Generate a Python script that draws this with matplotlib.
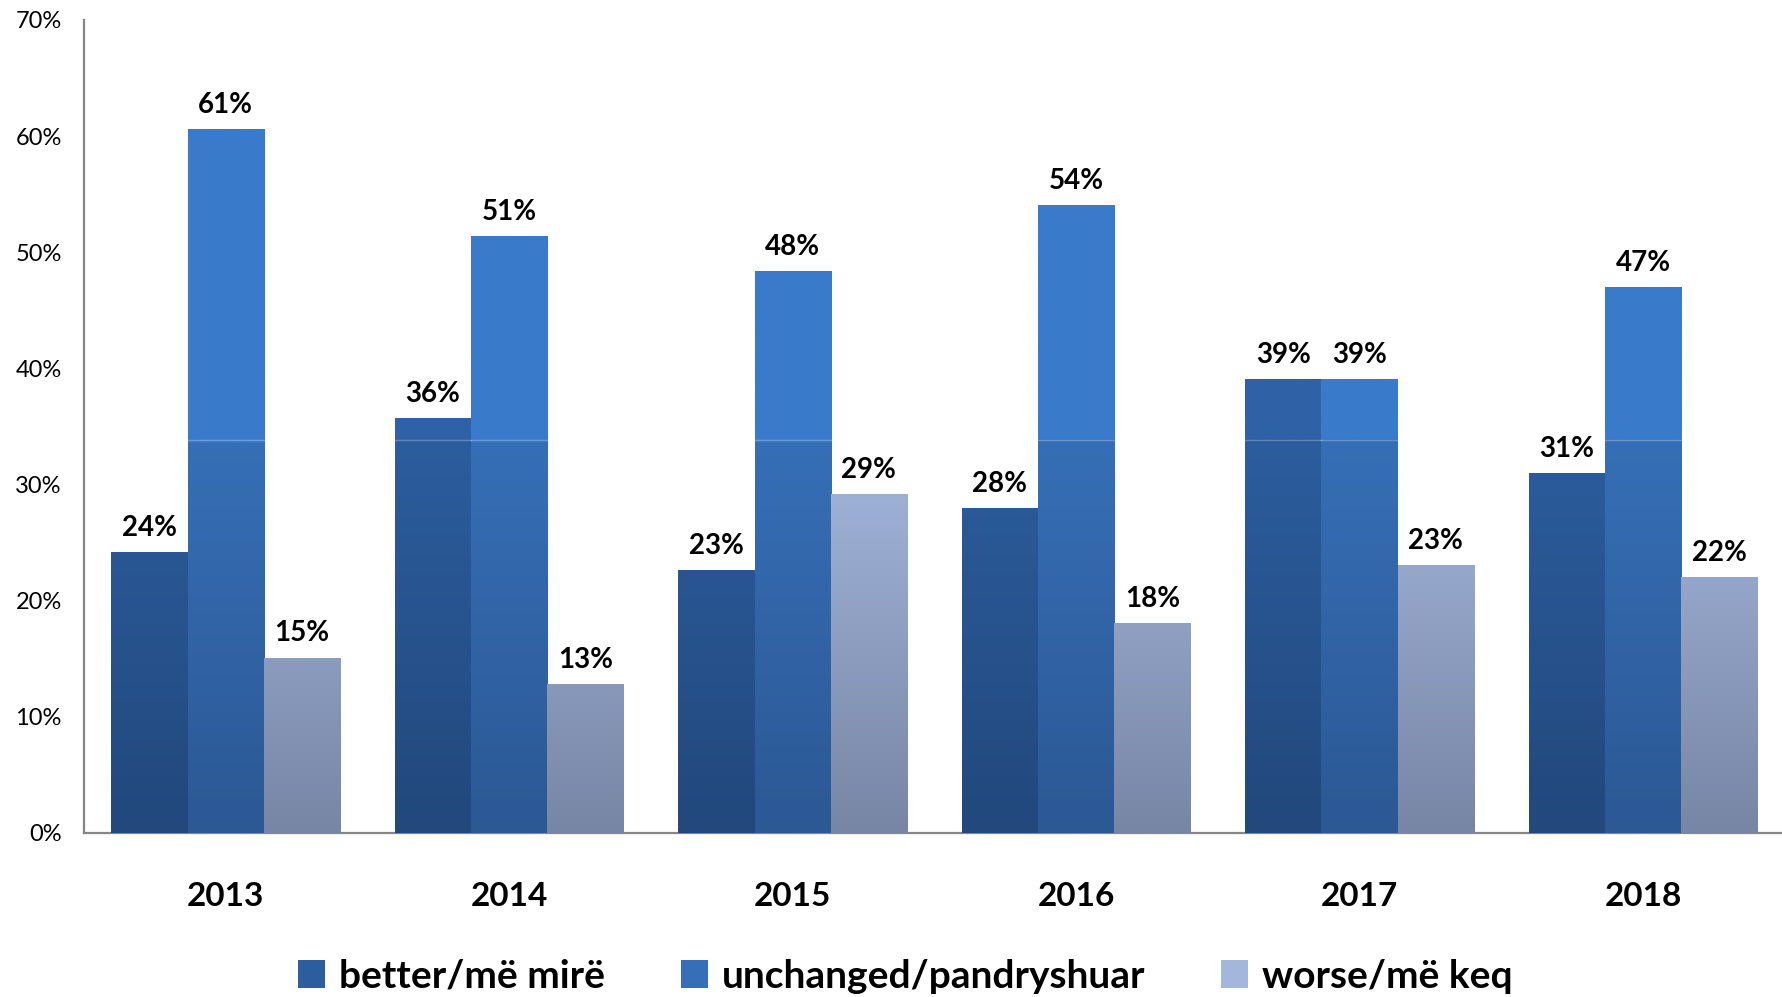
import numpy as np
import matplotlib
matplotlib.use("Agg")
import matplotlib.pyplot as plt
from matplotlib.patches import Patch
from matplotlib.colors import to_rgb

# data (percent)
years = ["2013", "2014", "2015", "2016", "2017", "2018"]
better = [24.2, 35.7, 22.6, 28.0, 39.1, 31.0]
unchanged = [60.6, 51.4, 48.4, 54.1, 39.1, 47.0]
worse = [15.1, 12.8, 29.2, 18.1, 23.1, 22.0]
labels = ["better/më mirë", "unchanged/pandryshuar", "worse/më keq"]

# (top, just-below-seam, bottom) colours per series
shades = [
    ("#2e62a6", "#2c5d9e", "#22487c"),
    ("#3a7acb", "#366fb7", "#2c5894"),
    ("#a3b7dd", "#a3b7dd", "#7886a5"),
]
seam = 33.8  # gradient stops here, solid colour above

plt.rcParams['font.family'] = ['Lato', 'DejaVu Sans']

fig = plt.figure(figsize=(17.82, 9.97), dpi=100)
ax = fig.add_axes([0.0471, 0.1645, 0.9529, 0.8155])

x = np.arange(len(years))
w = 0.269
series = [better, unchanged, worse]


def gradient(h, cols, n=200):
    top, mid, bot = [np.array(to_rgb(c)) for c in cols]
    ys = np.linspace(0, h, n)
    out = np.zeros((n, 1, 3))
    for k, y in enumerate(ys):
        if y >= seam:
            out[k, 0] = top
        else:
            t = y / seam
            out[k, 0] = bot + (mid - bot) * t
    return out


for i, vals in enumerate(series):
    bars = ax.bar(x + (i - 1) * w, vals, w, color=shades[i][0], linewidth=0, zorder=2)
    for b, v in zip(bars, vals):
        x0 = b.get_x()
        im = ax.imshow(gradient(v, shades[i]), extent=[x0, x0 + w, 0, v], origin='lower',
                       aspect='auto', interpolation='bilinear', zorder=3)
        im.set_clip_path(b)
        if v > seam:
            ax.plot([x0, x0 + w], [seam, seam], color='white', alpha=0.25, lw=1, zorder=4)
        ax.annotate(f"{v:.0f}%", (b.get_x() + w / 2, v), xytext=(0, 8),
                    textcoords='offset points', ha='center', va='bottom',
                    fontsize=20, fontweight='bold', color='black')

ax.set_xlim(-0.5, 5.49)
ax.set_ylim(0, 70)
ax.set_yticks(range(0, 71, 10))
ax.set_yticklabels([f"{t}%" for t in range(0, 71, 10)], fontsize=17)
ax.set_xticks(x)
ax.set_xticklabels(years, fontsize=24, fontweight='bold')
ax.tick_params(axis='y', length=0, pad=16)
ax.tick_params(axis='x', length=0, pad=35)

for s in ['top', 'right']:
    ax.spines[s].set_visible(False)
for s in ['left', 'bottom']:
    ax.spines[s].set_color('#868686')
    ax.spines[s].set_linewidth(1.6)

handles = [Patch(facecolor=shades[i][1], edgecolor='none') for i in range(3)]
fig.legend(handles, labels, loc='center', bbox_to_anchor=(0.508, 0.021), ncol=3,
           frameon=False, prop={'size': 28, 'weight': 'bold'},
           handlelength=0.7, handleheight=0.7, handletextpad=0.35, columnspacing=1.95)

fig.savefig("out.png", dpi=100)
